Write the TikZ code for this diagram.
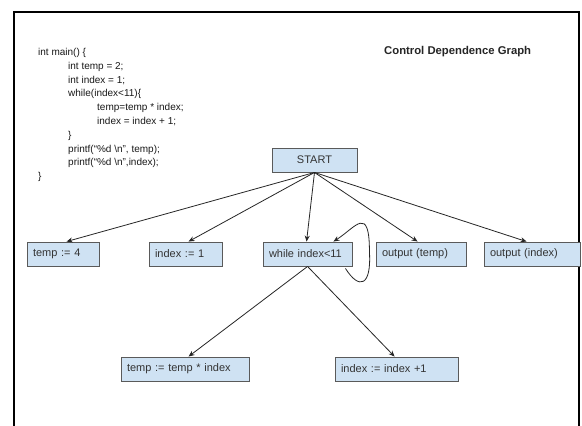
\documentclass[tikz,border=0pt]{standalone}
\usepackage{fontspec}
\setmainfont{Liberation Sans}
\usetikzlibrary{arrows.meta}
\definecolor{boxfill}{HTML}{CFE2F3}
\definecolor{boxline}{HTML}{5A5A5A}
\definecolor{edgeline}{HTML}{262626}
\begin{document}
\begin{tikzpicture}[x=1pt,y=-1pt,
  cdgbox/.style={draw=boxline,fill=boxfill,line width=0.9pt,rectangle,
    minimum height=24pt,inner xsep=6pt,inner ysep=0pt,align=left,
    font=\fontsize{11}{13}\selectfont,text=black!80},
  codeline/.style={anchor=base west,inner sep=0pt,font=\fontsize{10}{12}\selectfont,text=black!90},
  arr/.style={draw=edgeline,line width=0.8pt,-{Stealth[length=6pt,width=5pt]}}]
\useasboundingbox (0,0) rectangle (582,426);
\fill[white] (0,0) rectangle (582,426);
% page frame
\draw[line width=1.4pt,black] (14,426) -- (14,12) -- (579,12) -- (579,426);

% source program
\node[codeline] (c1)  at (38,55.5)   {int main() \{};
\node[codeline] (c2)  at (68,69.3)   {int temp = 2;};
\node[codeline] (c3)  at (68,83.1)   {int index = 1;};
\node[codeline] (c4)  at (68,96.8)   {while(index<11)\{};
\node[codeline] (c5)  at (97,110.6)  {temp=temp * index;};
\node[codeline] (c6)  at (97,124.4)  {index = index + 1;};
\node[codeline] (c7)  at (68,138.2)  {\}};
\node[codeline] (c8)  at (68,152.0)  {printf(“\%d \textbackslash n”, temp);};
\node[codeline] (c9)  at (68,165.7)  {printf(“\%d \textbackslash n”,index);};
\node[codeline] (c10) at (38,179.5)  {\}};

% title
\node[anchor=base west,inner sep=0pt,font=\bfseries\fontsize{11.3}{13}\selectfont,text=black!85] (title) at (384,54) {Control Dependence Graph};

% graph nodes
\node[cdgbox,minimum width=85pt,align=center] (start) at (314.5,160) {START};
\node[cdgbox,text width=60pt]  (t4)   at (63,254)    {temp := 4};
\node[cdgbox,text width=61pt]  (i1)   at (185.5,254) {index := 1};
\node[cdgbox,text width=77pt]  (wh)   at (307.5,254) {while index<11};
\node[cdgbox,text width=78pt]  (ot)   at (421,254)   {output (temp)};
\node[cdgbox,text width=84pt]  (oi)   at (532,254)   {output (index)};
\node[cdgbox,text width=116pt] (tt)   at (185,369)   {temp := temp * index};
\node[cdgbox,text width=111pt] (ii)   at (396.5,369) {index := index +1};

% control dependences
\draw[arr] (start.south) -- ([xshift=40pt]t4.north west);
\draw[arr] (start.south) -- ([xshift=40pt]i1.north west);
\draw[arr] (start.south) -- ([xshift=44pt]wh.north west);
\draw[arr] (start.south) -- ([xshift=42pt]ot.north west);
\draw[arr] (start.south) -- ([xshift=43pt]oi.north west);
\draw[arr] ([xshift=45pt]wh.south west) -- ([xshift=68pt]tt.north west);
\draw[arr] ([xshift=45pt]wh.south west) -- ([xshift=60pt]ii.north west);
% loop back onto the while node
\draw[arr] ([xshift=-7pt,yshift=-2pt]wh.south east)
  .. controls +(14,22) and +(2,34) .. ([xshift=17pt,yshift=2pt]wh.east)
  .. controls +(0,-48) and +(22,-14) .. ([xshift=-19pt]wh.north east);
\end{tikzpicture}
\end{document}
